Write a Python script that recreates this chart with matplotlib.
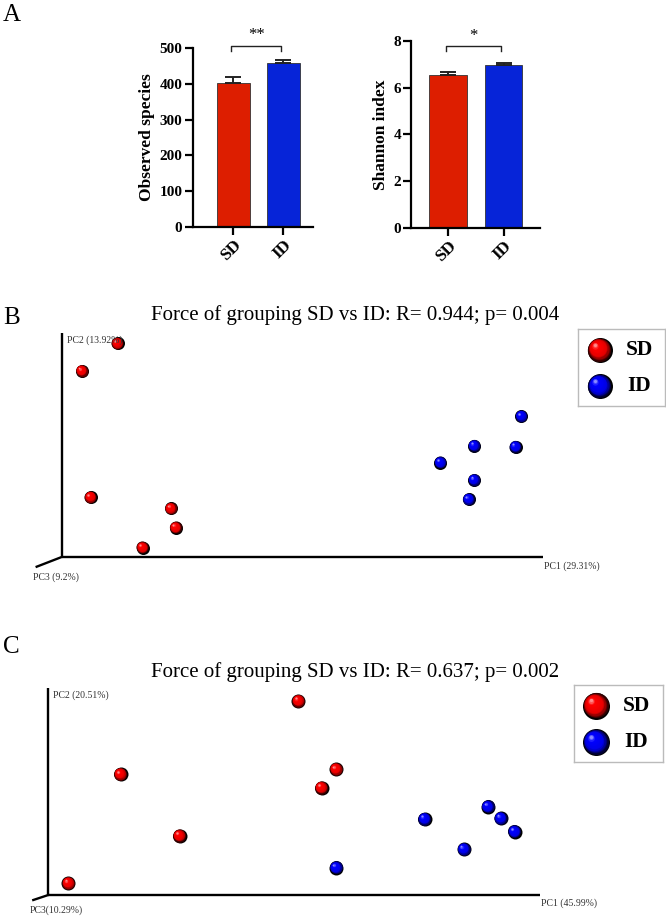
import numpy as np
import matplotlib
matplotlib.use("Agg")
import matplotlib.pyplot as plt
from matplotlib.transforms import offset_copy
from matplotlib.colors import to_rgb

plt.rcParams['font.family'] = ['Liberation Serif', 'DejaVu Serif']

# ---------------- data ----------------
groups = ["SD", "ID"]
obs_mean = [403, 460]
obs_err = [17, 8]
shannon_mean = [6.55, 6.97]
shannon_err = [0.12, 0.10]

# PCoA panel B (axis-relative units)
b_sd_x = [11.6, 4.2, 6.0, 22.7, 23.7, 16.8]
b_sd_y = [95.4, 83.0, 26.7, 21.7, 13.1, 4.2]
b_id_x = [95.5, 85.7, 94.3, 78.7, 85.7, 84.6]
b_id_y = [62.9, 49.6, 49.2, 42.1, 34.4, 25.8]
b_title = "Force of grouping SD vs ID: R= 0.944; p= 0.004"
b_labels = ["PC1 (29.31%)", "PC2 (13.92%)", "PC3 (9.2%)"]

# PCoA panel C
c_sd_x = [50.9, 14.7, 26.7, 4.1, 58.6, 55.6]
c_sd_y = [93.7, 58.3, 28.6, 5.7, 60.7, 51.8]
c_id_x = [76.6, 89.5, 92.1, 94.9, 84.6, 58.6]
c_id_y = [36.7, 42.7, 37.1, 30.6, 22.1, 13.2]
c_title = "Force of grouping SD vs ID: R= 0.637; p= 0.002"
c_labels = ["PC1 (45.99%)", "PC2 (20.51%)", "PC3(10.29%)"]

RED = "#dd1e00"
BLUE = "#0624d8"
SPH_RED = "#ff0000"
SPH_BLUE = "#0000ff"

W, H = 666, 918
fig = plt.figure(figsize=(W / 100, H / 100), dpi=100)


def fig_x(px):
    return px / W


def fig_y(py):
    return 1 - py / H


def px_axes(left, top, right, bottom):
    return fig.add_axes([left / W, 1 - bottom / H, (right - left) / W, (bottom - top) / H])


def spheres(ax, x, y, color, diam_px, zorder=3):
    d = diam_px * 0.72  # points
    base = np.array(to_rgb(color))
    dark = np.array([0.0, 0.0, 0.0])
    light = base + (1 - base) * 0.55
    n = 14
    for i, t in enumerate(np.linspace(0, 1, n)):
        size = d * (1 - 0.88 * t)
        off = 0.20 * d * t
        if t < 0.35:
            c = dark + (base - dark) * (t / 0.35) * 0.9
        elif t < 0.8:
            c = base * 0.9 + (base - base * 0.9) * ((t - 0.35) / 0.45)
        else:
            c = base + (light - base) * ((t - 0.8) / 0.2)
        c = np.clip(c, 0, 1)
        tr = offset_copy(ax.transData, fig=fig, x=-off, y=off, units='points')
        ax.scatter(x, y, s=size ** 2, color=c, linewidths=0, transform=tr,
                   zorder=zorder + i * 0.01, clip_on=False)


# ---------------- Panel A ----------------
fig.text(3 / W, fig_y(15), "A", fontsize=18, va='center', ha='left')


def bar_panel(rect, means, errs, ylim, yticks, ylabel, sig, bracket, star_y):
    ax = px_axes(*rect)
    xs = np.arange(len(groups))
    ax.bar(xs, means, width=0.667, color=[RED, BLUE], edgecolor='#333333', linewidth=0.6, zorder=2)
    ax.errorbar(xs, means, yerr=[[0, 0], errs], fmt='none', ecolor='#222222',
                elinewidth=1.4, capsize=6, capthick=1.4, zorder=3)
    ax.set_ylim(*ylim)
    ax.set_yticks(yticks)
    ax.set_xticks(xs)
    ax.set_xticklabels(groups, rotation=45, ha='right', rotation_mode='anchor',
                       fontsize=12.5, fontweight='bold')
    for lab in ax.get_yticklabels():
        lab.set_fontweight('bold')
        lab.set_fontsize(11)
    ax.set_ylabel(ylabel, fontsize=12.5, fontweight='bold', labelpad=3)
    for s in ['top', 'right']:
        ax.spines[s].set_visible(False)
    for s in ['left', 'bottom']:
        ax.spines[s].set_linewidth(1.6)
    ax.tick_params(axis='both', width=1.6, length=6, pad=1.5)
    lo, hi = bracket
    ax.plot([xs[0] - 0.04, xs[0] - 0.04, xs[1] - 0.04, xs[1] - 0.04], [lo, hi, hi, lo],
            color='#222222', lw=1.0, clip_on=False)
    ax.text((xs[0] + xs[1]) / 2 - 0.04, star_y, sig, ha='center', va='center', fontsize=12,
            clip_on=False)
    return ax


ax1 = bar_panel((192.7, 48.3, 313.3, 226.7), obs_mean, obs_err, (0, 500),
                [0, 100, 200, 300, 400, 500], "Observed species", "**", (493, 506), 538)
ax1.set_xlim(-0.81, 1.6)
ax2 = bar_panel((411.3, 41, 539.7, 227.7), shannon_mean, shannon_err, (0, 8),
                [0, 2, 4, 6, 8], "Shannon index", "*", (7.58, 7.8), 8.22)
ax2.set_xlim(-0.66, 1.65)


# ---------------- PCoA panels ----------------
def pcoa_panel(rect, sdx, sdy, idx, idy, title, labels, letter, letter_y, title_y,
               pc3_end, diam, legend_rect, leg_diam):
    left, top, right, bottom = rect
    ax = px_axes(*rect)
    ax.set_xlim(0, 100)
    ax.set_ylim(0, 100)
    ax.axis('off')
    ax.plot([0, 0], [0, 100], color='black', lw=1.7, clip_on=False, solid_capstyle='butt')
    ax.plot([0, 100], [0, 0], color='black', lw=1.7, clip_on=False, solid_capstyle='butt')
    ex = (pc3_end[0] - left) / (right - left) * 100
    ey = (bottom - pc3_end[1]) / (bottom - top) * 100
    ax.plot([0, ex], [0, ey], color='black', lw=1.7, clip_on=False)
    spheres(ax, sdx, sdy, SPH_RED, diam)
    spheres(ax, idx, idy, SPH_BLUE, diam)
    # PC labels
    ax.text(100.3, -4.0, labels[0], fontsize=7, color='#333333', ha='left', va='center')
    fig.text(fig_x(left + 5), fig_y(top + 7), labels[1], fontsize=7, color='#333333',
             ha='left', va='center')
    fig.text(fig_x(pc3_end[0] - 4), fig_y(pc3_end[1] + 10), labels[2], fontsize=7,
             color='#333333', ha='left', va='center')
    fig.text(3 / W, fig_y(letter_y), letter, fontsize=18, ha='left', va='center')
    fig.text(fig_x(355), fig_y(title_y), title, fontsize=15, ha='center', va='center')
    # legend
    lg = px_axes(*legend_rect)
    lg.set_xlim(0, 1)
    lg.set_ylim(0, 1)
    lg.set_xticks([])
    lg.set_yticks([])
    for s in lg.spines.values():
        s.set_edgecolor('#bbbbbb')
        s.set_linewidth(1.0)
    spheres(lg, [0.25], [0.73], SPH_RED, leg_diam)
    spheres(lg, [0.25], [0.26], SPH_BLUE, leg_diam)
    lg.text(0.55, 0.73, "SD", fontsize=15.5, fontweight='bold', ha='left', va='center')
    lg.text(0.57, 0.26, "ID", fontsize=15.5, fontweight='bold', ha='left', va='center')
    return ax


pcoa_panel((61.7, 333, 543, 557), b_sd_x, b_sd_y, b_id_x, b_id_y, b_title, b_labels,
           "B", 318, 315, (36.7, 566.7), 13, (578, 329.3, 664.7, 406), 25)
pcoa_panel((48.3, 688, 539.7, 895), c_sd_x, c_sd_y, c_id_x, c_id_y, c_title, c_labels,
           "C", 647, 671.7, (33.3, 900), 14, (573.7, 685, 663, 762.3), 27)

fig.savefig("out.png", dpi=100)
